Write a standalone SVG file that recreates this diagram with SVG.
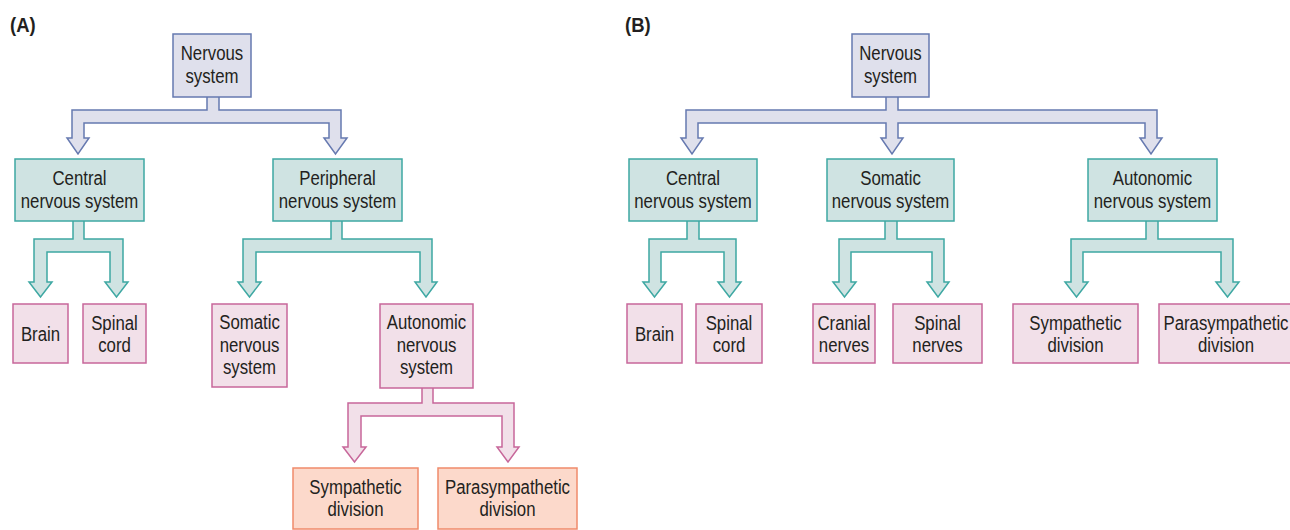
<svg xmlns="http://www.w3.org/2000/svg" width="1290" height="530" viewBox="0 0 1290 530">
<style>
text{font-family:"Liberation Sans",Arial,sans-serif;font-size:21px;fill:#231f20;text-anchor:middle}
.lbl{font-weight:bold;text-anchor:start;font-size:21px}
.lav{fill:#dfe0ec;stroke:#6679b0;stroke-width:1.5}
.teal{fill:#cfe3e2;stroke:#3ea8a3;stroke-width:1.5}
.pink{fill:#f2e0e9;stroke:#c7679a;stroke-width:1.5}
.sal{fill:#fcd9cb;stroke:#f08a6b;stroke-width:1.5}
</style>
<rect width="1290" height="530" fill="#ffffff"/>
<text class="lbl" transform="translate(10,32) scale(0.88,1)">(A)</text>
<text class="lbl" transform="translate(625,32) scale(0.88,1)">(B)</text>
<g id="connectors">
<path class="lav" d="M207,96 V110 H72 V138 H67 L78,154 L89,138 H84 V123 H329 V138 H324 L335.5,154 L347,138 H341 V110 H219 V96 Z"/>
<path class="teal" d="M73,220 V239 H34 V282 H29 L40.5,297 L52,282 H47 V252 H110 V282 H105 L116.5,297 L128,282 H123 V239 H84 V220 Z"/>
<path class="teal" d="M331,220 V239 H243 V282 H238 L249.5,297 L261,282 H256 V252 H420 V282 H415 L426,297 L437,282 H432 V239 H342 V220 Z"/>
<path class="pink" d="M422,387 V403 H348 V447 H343 L354.5,462 L366,447 H361 V416 H502 V447 H497 L508,462 L519,447 H514 V403 H433 V387 Z"/>
<path class="lav" d="M886,96 V110 H686 V138 H681 L692,154 L703,138 H698 V123 H886 V138 H881 L892,154 L903,138 H898 V123 H1145 V138 H1140 L1151,154 L1162,138 H1157 V110 H898 V96 Z"/>
<path class="teal" d="M687,220 V239 H649 V282 H643 L654.5,297 L666,282 H661 V252 H724 V282 H718 L729.5,297 L741,282 H736 V239 H699 V220 Z"/>
<path class="teal" d="M885,220 V239 H839 V282 H833 L844.5,297 L856,282 H851 V252 H932 V282 H927 L938,297 L949,282 H944 V239 H897 V220 Z"/>
<path class="teal" d="M1146,220 V239 H1071 V282 H1065 L1076.5,297 L1088,282 H1083 V252 H1221 V282 H1216 L1227.5,297 L1239,282 H1233 V239 H1158 V220 Z"/>
</g>
<g id="a-nervous"><rect class="lav" x="173" y="34" width="78" height="63"/><text transform="translate(212,60) scale(0.8,1)">Nervous</text><text transform="translate(212,83) scale(0.8,1)">system</text></g>
<g id="a-cns"><rect class="teal" x="15" y="159" width="129" height="62"/><text transform="translate(79.5,185) scale(0.8,1)">Central</text><text transform="translate(79.5,208) scale(0.8,1)">nervous system</text></g>
<g id="a-pns"><rect class="teal" x="273" y="159" width="129" height="62"/><text transform="translate(337.5,185) scale(0.8,1)">Peripheral</text><text transform="translate(337.5,208) scale(0.8,1)">nervous system</text></g>
<g id="a-brain"><rect class="pink" x="13" y="304" width="55" height="59"/><text transform="translate(40.5,341) scale(0.8,1)">Brain</text></g>
<g id="a-spinal"><rect class="pink" x="83" y="304" width="63" height="59"/><text transform="translate(114.5,330) scale(0.8,1)">Spinal</text><text transform="translate(114.5,352) scale(0.8,1)">cord</text></g>
<g id="a-somatic"><rect class="pink" x="212" y="304" width="75" height="83"/><text transform="translate(249.5,329) scale(0.8,1)">Somatic</text><text transform="translate(249.5,352) scale(0.8,1)">nervous</text><text transform="translate(249.5,374) scale(0.8,1)">system</text></g>
<g id="a-autonomic"><rect class="pink" x="380" y="304" width="93" height="84"/><text transform="translate(426.5,329) scale(0.8,1)">Autonomic</text><text transform="translate(426.5,352) scale(0.8,1)">nervous</text><text transform="translate(426.5,374) scale(0.8,1)">system</text></g>
<g id="a-sympathetic"><rect class="sal" x="293" y="468" width="125" height="61"/><text transform="translate(355.5,494) scale(0.8,1)">Sympathetic</text><text transform="translate(355.5,516) scale(0.8,1)">division</text></g>
<g id="a-parasympathetic"><rect class="sal" x="438" y="468" width="139" height="61"/><text transform="translate(507.5,494) scale(0.8,1)">Parasympathetic</text><text transform="translate(507.5,516) scale(0.8,1)">division</text></g>
<g id="b-nervous"><rect class="lav" x="852" y="34" width="77" height="63"/><text transform="translate(890.5,60) scale(0.8,1)">Nervous</text><text transform="translate(890.5,83) scale(0.8,1)">system</text></g>
<g id="b-cns"><rect class="teal" x="629" y="159" width="128" height="62"/><text transform="translate(693,185) scale(0.8,1)">Central</text><text transform="translate(693,208) scale(0.8,1)">nervous system</text></g>
<g id="b-somatic"><rect class="teal" x="827" y="159" width="127" height="62"/><text transform="translate(890.5,185) scale(0.8,1)">Somatic</text><text transform="translate(890.5,208) scale(0.8,1)">nervous system</text></g>
<g id="b-autonomic"><rect class="teal" x="1088" y="159" width="129" height="62"/><text transform="translate(1152.5,185) scale(0.8,1)">Autonomic</text><text transform="translate(1152.5,208) scale(0.8,1)">nervous system</text></g>
<g id="b-brain"><rect class="pink" x="627" y="304" width="55" height="59"/><text transform="translate(654.5,341) scale(0.8,1)">Brain</text></g>
<g id="b-spinal"><rect class="pink" x="696" y="304" width="66" height="59"/><text transform="translate(729,330) scale(0.8,1)">Spinal</text><text transform="translate(729,352) scale(0.8,1)">cord</text></g>
<g id="b-cranial"><rect class="pink" x="813" y="304" width="62" height="59"/><text transform="translate(844,330) scale(0.8,1)">Cranial</text><text transform="translate(844,352) scale(0.8,1)">nerves</text></g>
<g id="b-spinalnerves"><rect class="pink" x="893" y="304" width="89" height="59"/><text transform="translate(937.5,330) scale(0.8,1)">Spinal</text><text transform="translate(937.5,352) scale(0.8,1)">nerves</text></g>
<g id="b-sympathetic"><rect class="pink" x="1013" y="304" width="125" height="59"/><text transform="translate(1075.5,330) scale(0.8,1)">Sympathetic</text><text transform="translate(1075.5,352) scale(0.8,1)">division</text></g>
<g id="b-parasympathetic"><rect class="pink" x="1159" y="304" width="140" height="59"/><text transform="translate(1226,330) scale(0.8,1)">Parasympathetic</text><text transform="translate(1226,352) scale(0.8,1)">division</text></g>
</svg>
